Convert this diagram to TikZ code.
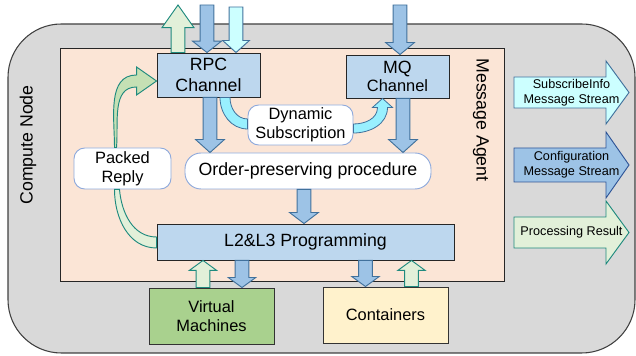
\documentclass[tikz,border=0pt]{standalone}
\usepackage{fontspec}
\setmainfont{Liberation Sans}
\usepackage{xcolor}
\usepackage{tikz}
\usetikzlibrary{arrows.meta, positioning, calc}
\definecolor{cnodegray}{HTML}{D9D9D9}
\definecolor{cnodeedge}{HTML}{404040}
\definecolor{agentbg}{HTML}{FBE5D6}
\definecolor{chanblue}{HTML}{BDD7EE}
\definecolor{arrblue}{HTML}{9DC3E6}
\definecolor{arredge}{HTML}{41719C}
\definecolor{confedge}{HTML}{2F5597}
\definecolor{subcyan}{HTML}{CCFFFF}
\definecolor{dyncyan}{HTML}{99F0FF}
\definecolor{resgreen}{HTML}{E2F0D9}
\definecolor{replygreen}{HTML}{C5E0B4}
\definecolor{tealedge}{HTML}{1F8A7E}
\definecolor{roundedge}{HTML}{8FAADC}
\definecolor{vmgreen}{HTML}{A9D18E}
\definecolor{contyellow}{HTML}{FFF2CC}
\newcommand{\bigfont}{\fontsize{13.3}{15.5}\selectfont}
\newcommand{\midfont}{\fontsize{12.3}{14}\selectfont}
\newcommand{\smallfont}{\fontsize{9.5}{11.25}\selectfont}
% vertical block arrow: tail, tip (only its y is used), style, head length, head half width
\newcommand{\blockarrow}[5]{%
  \filldraw[#3] let \p1=#1, \p2=#2 in
    (\x1-5.2pt,\y1) -- (\x1-5.2pt,{\y2+(\y1-\y2)/abs(\y1-\y2)*#4})
    -- (\x1-#5,{\y2+(\y1-\y2)/abs(\y1-\y2)*#4}) -- (\x1,\y2)
    -- (\x1+#5,{\y2+(\y1-\y2)/abs(\y1-\y2)*#4}) -- (\x1+5.2pt,{\y2+(\y1-\y2)/abs(\y1-\y2)*#4})
    -- (\x1+5.2pt,\y1) -- cycle;
}
% stream arrow on the right: name, y centre, body half, head half, style, text
\newcommand{\streamarrow}[6]{%
  \filldraw[#5] (514,#2-#3) -- (606,#2-#3) -- (606,#2-#4) -- (629,#2)
    -- (606,#2+#4) -- (606,#2+#3) -- (514,#2+#3) -- cycle;
  \node[font=\smallfont, align=center, inner sep=0pt] (#1) at (571.5,#2) {#6};
}

\begin{document}
\begin{tikzpicture}[x=0.75pt, y=0.75pt,
  chanbox/.style={draw=black!85, fill=chanblue, line width=0.7pt, align=center, inner sep=1pt},
  softbox/.style={draw=roundedge, fill=white, line width=0.7pt, align=center, inner sep=1pt},
  hostbox/.style={draw=black!80, line width=0.7pt, align=center, inner sep=1pt},
  bluearrow/.style={fill=arrblue, draw=arredge, line width=0.7pt},
  cyanarrow/.style={fill=subcyan, draw=arredge, line width=0.7pt},
  greenarrow/.style={fill=resgreen, draw=tealedge, line width=0.7pt},
  replyarrow/.style={fill=replygreen, draw=tealedge, line width=0.7pt},
  dynband/.style={fill=dyncyan, draw=arredge, line width=0.6pt}]

  \useasboundingbox (0,0) rectangle (636,356);

  %% Compute node and message agent
  \draw[fill=cnodegray, draw=cnodeedge, line width=0.8pt, rounded corners=40pt]
    (8,3) rectangle (635,332);
  \node[font=\bigfont, rotate=90] (computelbl) at (28,211) {Compute Node};
  \draw[fill=agentbg, draw=black!85, line width=0.7pt] (60,75) rectangle (504,308);
  \node[font=\bigfont, rotate=-90] (agentlbl) at (481,236) {Message Agent};

  %% Boxes
  \node[chanbox, minimum width=77.25pt, minimum height=33pt, font=\bigfont] (rpc) at (208.5,281)
    {RPC\\Channel};
  \node[chanbox, minimum width=77.25pt, minimum height=32.25pt, font=\midfont] (mq) at (397.5,279.5)
    {{\bigfont MQ}\\Channel};
  \node[softbox, rounded corners=8pt, minimum width=78.75pt, minimum height=30pt, font=\midfont] (dyn)
    at (300.5,231) {Dynamic\\Subscription};
  \node[softbox, rounded corners=12pt, minimum width=184.5pt, minimum height=27pt, font=\bigfont] (order)
    at (308,185) {Order-preserving procedure};
  \node[softbox, rounded corners=8pt, minimum width=72.75pt, minimum height=30.75pt, font=\midfont] (packed)
    at (122.5,187.5) {Packed\\Reply};
  \node[chanbox, minimum width=222.75pt, minimum height=27pt, font=\bigfont] (l2) at (305.5,114)
    {L2\&L3 Programming};
  \node[hostbox, fill=vmgreen, minimum width=93.75pt, minimum height=42pt, font=\midfont] (vm)
    at (211.5,40) {Virtual\\Machines};
  \node[hostbox, fill=contyellow, minimum width=93.75pt, minimum height=42pt, font=\midfont] (cont)
    at (385.5,41) {Containers};

  %% Outside ends of the top arrows
  \coordinate (rpcout) at (178,351);
  \coordinate (rpcin) at (207,351);
  \coordinate (subin) at (236,349);
  \coordinate (mqin) at (400,351);

  %% Straight arrows
  \blockarrow{($(rpc.north)+(-30.5,0)$)}{(rpcout)}{greenarrow}{17pt}{12pt}
  \blockarrow{(rpcin)}{(rpc.north)}{bluearrow}{8.5pt}{10.8pt}
  \blockarrow{(subin)}{(rpc.north)}{cyanarrow}{9pt}{10pt}
  \blockarrow{(mqin)}{(mq.north)}{bluearrow}{9pt}{10.8pt}
  \blockarrow{($(rpc.south)+(1.5,0)$)}{(order.north)}{bluearrow}{9.75pt}{10.8pt}
  \blockarrow{($(mq.south)+(5.5,0)$)}{(order.north)}{bluearrow}{9.75pt}{10.8pt}
  \blockarrow{($(order.south)+(-4,0)$)}{(l2.north)}{bluearrow}{8.25pt}{10.8pt}
  \blockarrow{($(l2.south)+(-63.5,0)$)}{(vm.north)}{bluearrow}{7.5pt}{10.3pt}
  \blockarrow{($(vm.north)+(-8.5,0)$)}{(l2.south)}{greenarrow}{7.5pt}{10.3pt}
  \blockarrow{($(l2.south)+(60,0)$)}{(cont.north)}{bluearrow}{7.5pt}{10.3pt}
  \blockarrow{($(cont.north)+(26,0)$)}{(l2.south)}{greenarrow}{7.5pt}{10.3pt}

  %% Curved arrows
  \coordinate (replytip) at ($(rpc.west)+(0,-6)$);
  \filldraw[replyarrow] ($(packed.north)+(-8,0)$) to[out=90,in=180] ($(replytip)+(-20,6)$)
    -- ($(replytip)+(-20,14)$) -- (replytip) -- ($(replytip)+(-20,-14)$)
    -- ($(replytip)+(-20,-6)$) to[out=180,in=85] ($(packed.north)+(-6,0)$) -- cycle;
  \filldraw[greenarrow] ($(packed.south)+(-8,0)$) to[out=-90,in=180] ($(l2.west)+(0,-6)$)
    -- ($(l2.west)+(0,5)$) to[out=180,in=-85] ($(packed.south)+(-3,0)$) -- cycle;
  \filldraw[dynband] ($(rpc.south)+(11.5,0)$) to[out=-90,in=180] ($(dyn.west)+(0,-4)$)
    -- ($(dyn.west)+(0,6)$) to[out=180,in=-90] ($(rpc.south)+(21.5,0)$) -- cycle;
  \coordinate (dyntip) at ($(mq.south)+(-15,0)$);
  \filldraw[dynband] ($(dyn.east)+(0,-8)$) to[out=0,in=-90] ($(dyntip)+(5,-9)$)
    -- ($(dyntip)+(10,-9)$) -- (dyntip) -- ($(dyntip)+(-10,-9)$)
    -- ($(dyntip)+(-5,-9)$) to[out=-90,in=0] ($(dyn.east)+(0,1)$) -- cycle;

  %% Streams leaving the node
  \streamarrow{substream}{263.5}{15.5}{31.5}{cyanarrow}{SubscribeInfo\\Message Stream}
  \streamarrow{confstream}{191}{17}{33}{fill=arrblue, draw=confedge, line width=0.7pt}{Configuration\\Message Stream}
  \streamarrow{resstream}{123.5}{15.5}{31.5}{greenarrow}{Processing Result}

\end{tikzpicture}
\end{document}
